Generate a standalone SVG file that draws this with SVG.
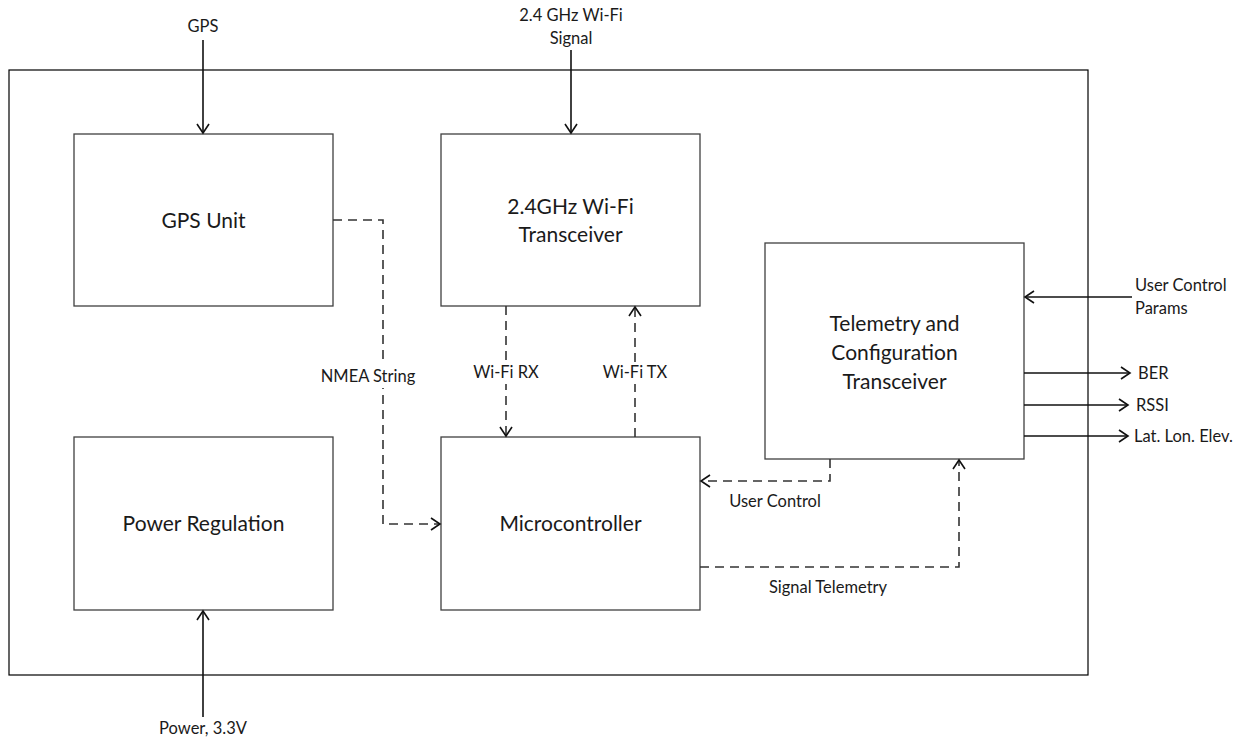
<svg xmlns="http://www.w3.org/2000/svg" width="1249" height="740" viewBox="0 0 1249 740">
<defs>
<style>
.box{fill:#fff;stroke:#404040;stroke-width:1.3}
.frame{fill:none;stroke:#000;stroke-width:1.2}
.ln{fill:none;stroke:#111;stroke-width:1.6}
.dl{fill:none;stroke:#333;stroke-width:1.6;stroke-dasharray:9 6}
.big{font-family:Lato,"Open Sans",sans-serif;font-size:21px;fill:#1a1a1a;text-anchor:middle}
.sm{font-family:Lato,"Open Sans",sans-serif;font-size:16.5px;fill:#1a1a1a}
.c{text-anchor:middle}
.bg{fill:#fff}
</style>
<marker id="ah" markerWidth="12" markerHeight="14" refX="10" refY="7" orient="auto" markerUnits="userSpaceOnUse">
<path d="M1,1 L10,7 L1,13" fill="none" stroke="#111" stroke-width="1.6"/>
</marker>
</defs>
<rect width="1249" height="740" fill="#fff"/>
<rect id="frame" class="frame" x="9" y="70" width="1079" height="605"/>
<g id="gps-unit"><rect class="box" x="74" y="134" width="259" height="172"/><text class="big" x="203.5" y="228">GPS Unit</text></g>
<g id="wifi-transceiver"><rect class="box" x="441" y="134" width="259" height="172"/><text class="big" x="570.5" y="214">2.4GHz Wi-Fi</text><text class="big" x="570.5" y="242">Transceiver</text></g>
<g id="telemetry"><rect class="box" x="765" y="243" width="259" height="216"/><text class="big" x="894.5" y="331">Telemetry and</text><text class="big" x="894.5" y="360">Configuration</text><text class="big" x="894.5" y="389">Transceiver</text></g>
<g id="power"><rect class="box" x="74" y="437" width="259" height="173"/><text class="big" x="203.5" y="531">Power Regulation</text></g>
<g id="mcu"><rect class="box" x="441" y="437" width="259" height="173"/><text class="big" x="570.5" y="531">Microcontroller</text></g>
<g id="connectors">
<path class="ln" d="M203,40 V133" marker-end="url(#ah)"/>
<path class="ln" d="M571,50 V133" marker-end="url(#ah)"/>
<path class="ln" d="M203,717 V611" marker-end="url(#ah)"/>
<path class="ln" d="M1132,297 H1025" marker-end="url(#ah)"/>
<path class="ln" d="M1024,373 H1130" marker-end="url(#ah)"/>
<path class="ln" d="M1024,405 H1128" marker-end="url(#ah)"/>
<path class="ln" d="M1024,436 H1128" marker-end="url(#ah)"/>
<path class="dl" d="M333,220 H383 V524 H440" marker-end="url(#ah)"/>
<path class="dl" d="M506,306 V436" marker-end="url(#ah)"/>
<path class="dl" d="M635,437 V307" marker-end="url(#ah)"/>
<path class="dl" d="M830,459 V481 H701" marker-end="url(#ah)"/>
<path class="dl" d="M700,567 H959 V460" marker-end="url(#ah)"/>
</g>
<g id="labels">
<rect class="bg" x="333" y="364" width="100" height="24"/>
<rect class="bg" x="472" y="362" width="68" height="22"/>
<rect class="bg" x="601" y="362" width="68" height="22"/>
<text class="sm c" x="203" y="32">GPS</text>
<text class="sm c" x="571" y="21">2.4 GHz Wi-Fi</text>
<text class="sm c" x="571" y="44">Signal</text>
<text class="sm c" x="203" y="734">Power, 3.3V</text>
<text class="sm" x="1135" y="291">User Control</text>
<text class="sm" x="1135" y="314">Params</text>
<text class="sm" x="1138" y="379">BER</text>
<text class="sm" x="1136" y="411">RSSI</text>
<text class="sm" x="1134" y="442">Lat. Lon. Elev.</text>
<text class="sm c" x="368" y="382">NMEA String</text>
<text class="sm c" x="506" y="378">Wi-Fi RX</text>
<text class="sm c" x="635" y="378">Wi-Fi TX</text>
<text class="sm c" x="775" y="507">User Control</text>
<text class="sm c" x="828" y="593">Signal Telemetry</text>
</g>
</svg>
